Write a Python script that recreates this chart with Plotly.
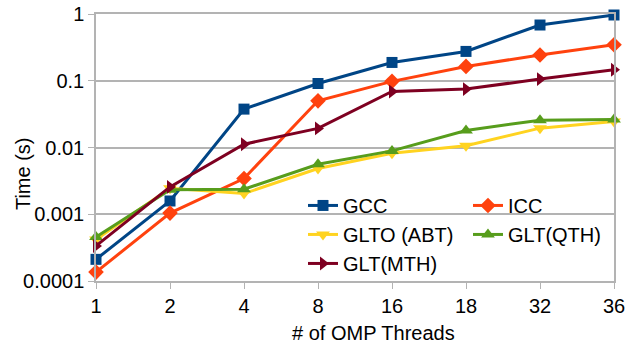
import plotly.graph_objects as go

threads = ["1", "2", "4", "8", "16", "18", "32", "36"]
gcc = [0.000211, 0.00158, 0.0376, 0.091, 0.188, 0.275, 0.684, 0.966]
icc = [0.000136, 0.00104, 0.00343, 0.050, 0.098, 0.164, 0.243, 0.347]
glto_abt = [0.00042, 0.00245, 0.00204, 0.00484, 0.0082, 0.0106, 0.0195, 0.0245]
glt_qth = [0.000457, 0.00232, 0.00237, 0.0056, 0.0089, 0.018, 0.0257, 0.0263]
glt_mth = [0.000335, 0.00257, 0.0112, 0.0193, 0.069, 0.075, 0.106, 0.146]

y_tickvals = [0.0001, 0.001, 0.01, 0.1, 1]
y_ticktext = ["0.0001", "0.001", "0.01", "0.1", "1"]

series = [
    ("GCC", gcc, "#004586", "square", "legend"),
    ("ICC", icc, "#ff420e", "diamond", "legend2"),
    ("GLTO (ABT)", glto_abt, "#ffd320", "triangle-down", "legend"),
    ("GLT(QTH)", glt_qth, "#579d1c", "triangle-up", "legend2"),
    ("GLT(MTH)", glt_mth, "#7e0021", "triangle-right", "legend"),
]

fig = go.Figure()
for name, vals, color, sym, leg in series:
    fig.add_trace(go.Scatter(
        x=threads, y=vals, name=name, mode="lines+markers",
        line=dict(color=color, width=3),
        marker=dict(symbol=sym, size=12 if sym != "square" else 11,
                    color=color, line=dict(width=0)),
        cliponaxis=False, legend=leg,
    ))

font_family = "Liberation Sans, Arial, sans-serif"
fs = 20
leg_common = dict(
    orientation="v", yanchor="top", xanchor="left",
    bgcolor="rgba(0,0,0,0)", font=dict(size=fs), itemwidth=30,
    tracegroupgap=0,
)
fig.update_layout(
    width=634, height=344,
    margin=dict(l=96, r=20, t=14, b=63, autoexpand=False),
    paper_bgcolor="white", plot_bgcolor="white",
    font=dict(family=font_family, size=fs, color="#000000"),
    showlegend=True,
    legend=dict(x=0.3996, y=0.356, **leg_common),
    legend2=dict(x=0.7181, y=0.356, **leg_common),
    xaxis=dict(
        type="category", range=[0, 7],
        showgrid=False, showline=True, linecolor="#b3b3b3", linewidth=1.5,
        mirror=True, ticks="outside", ticklen=6, tickcolor="#b3b3b3",
        tickfont=dict(size=fs),
    ),
    yaxis=dict(
        type="log", range=[-4, 0],
        tickvals=y_tickvals, ticktext=y_ticktext,
        showgrid=True, gridcolor="#b3b3b3", gridwidth=1.5,
        showline=True, linecolor="#b3b3b3", linewidth=1.5, mirror=True,
        ticks="outside", ticklen=6, tickcolor="#b3b3b3",
        tickfont=dict(size=fs),
    ),
    annotations=[
        dict(text="# of OMP Threads", xref="paper", yref="paper",
             x=0.535, y=-0.195, xanchor="center", yanchor="middle",
             showarrow=False, font=dict(size=fs)),
        dict(text="Time (s)", xref="paper", yref="paper",
             x=-0.141, y=0.404, xanchor="center", yanchor="middle",
             textangle=-90, showarrow=False, font=dict(size=fs)),
    ],
)

fig.write_html("out.html")
